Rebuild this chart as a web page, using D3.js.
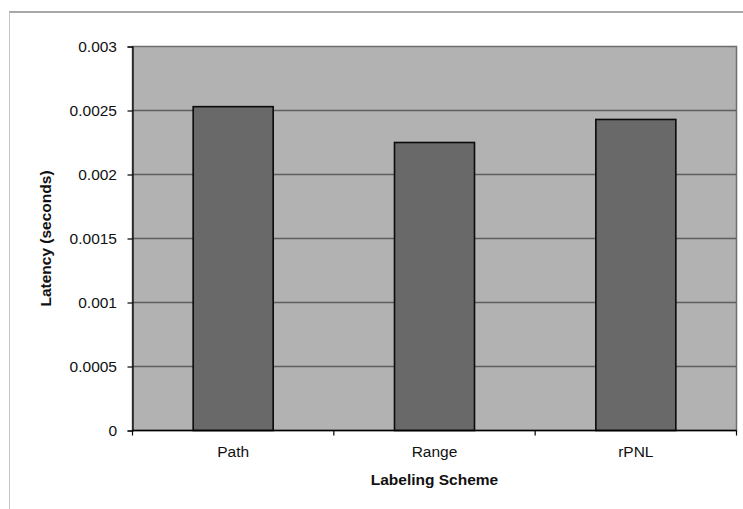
<!DOCTYPE html>
<html>
<head>
<meta charset="utf-8">
<script src="https://cdn.jsdelivr.net/npm/d3@7"></script>
<style>
  html, body { margin: 0; padding: 0; background: #fff; }
  svg { display: block; font-family: "Liberation Sans", Arial, sans-serif; }
</style>
</head>
<body>
<svg id="chart" width="743" height="509"></svg>
<script>
// Mean latency per labeling scheme
const categories = ["Path", "Range", "rPNL"];
const latency = [0.00253, 0.00225, 0.00243];
const yTicks = [0, 0.0005, 0.001, 0.0015, 0.002, 0.0025, 0.003];
const yTickLabels = ["0", "0.0005", "0.001", "0.0015", "0.002", "0.0025", "0.003"];

const svg = d3.select("#chart");
const W = 743, H = 509;
const plot = { left: 132.5, right: 736.5, top: 46.5, bottom: 430.5 };
const FS = 15.5;

// Frame lines around the chart object
svg.append("line").attr("x1", 9).attr("x2", W).attr("y1", 12).attr("y2", 12)
  .attr("stroke", "#8a8a8a").attr("stroke-width", 1.5);
svg.append("line").attr("x1", 9.5).attr("x2", 9.5).attr("y1", 12).attr("y2", H)
  .attr("stroke", "#c4c4c4").attr("stroke-width", 1);

const x = d3.scaleBand().domain(categories).range([plot.left, plot.right]).paddingInner(0).paddingOuter(0);
const y = d3.scaleLinear().domain([0, 0.003]).range([plot.bottom, plot.top]);

// Plot background
svg.append("rect")
  .attr("x", plot.left).attr("y", plot.top)
  .attr("width", plot.right - plot.left).attr("height", plot.bottom - plot.top)
  .attr("fill", "#b2b2b2").attr("stroke", "#6e6e6e").attr("stroke-width", 1.5);

// Horizontal gridlines
svg.append("g").selectAll("line").data(yTicks.filter(d => d > 0 && d < 0.003)).join("line")
  .attr("x1", plot.left).attr("x2", plot.right)
  .attr("y1", d => y(d)).attr("y2", d => y(d))
  .attr("stroke", "#5e5e5e").attr("stroke-width", 1.3);

// Bars
const barW = 80;
svg.append("g").selectAll("rect").data(categories).join("rect")
  .attr("x", d => x(d) + (x.bandwidth() - barW) / 2)
  .attr("y", (d, i) => y(latency[i]))
  .attr("width", barW)
  .attr("height", (d, i) => y(0) - y(latency[i]))
  .attr("fill", "#696969").attr("stroke", "#0a0a0a").attr("stroke-width", 1.6);

// Y axis
const yAxis = d3.axisLeft(y).tickValues(yTicks)
  .tickFormat((d, i) => yTickLabels[i]).tickSize(5).tickPadding(10.5);
const gy = svg.append("g").attr("transform", `translate(${plot.left},0)`).call(yAxis)
  .attr("font-size", FS).attr("font-family", "'Liberation Sans', Arial, sans-serif");
gy.select(".domain").attr("stroke", "#000").attr("stroke-width", 1.2);
gy.selectAll(".tick line").attr("stroke", "#000").attr("stroke-width", 1.2);
gy.selectAll(".tick text").attr("fill", "#111");

// X axis: ticks sit on the category boundaries
const gx = svg.append("g").attr("transform", `translate(0,${plot.bottom})`);
gx.append("line").attr("x1", plot.left).attr("x2", plot.right).attr("y1", 0).attr("y2", 0)
  .attr("stroke", "#000").attr("stroke-width", 1.3);
const bounds = categories.map(c => x(c)).concat([x(categories[categories.length - 1]) + x.bandwidth()]);
gx.selectAll("line.b").data(bounds).join("line").attr("class", "b")
  .attr("x1", d => d).attr("x2", d => d).attr("y1", 0).attr("y2", 5)
  .attr("stroke", "#000").attr("stroke-width", 1.2);
gx.selectAll("text").data(categories).join("text")
  .attr("x", d => x(d) + x.bandwidth() / 2).attr("y", 26)
  .attr("text-anchor", "middle").attr("font-size", FS).attr("fill", "#111")
  .text(d => d);

// Axis titles
svg.append("text")
  .attr("x", (plot.left + plot.right) / 2).attr("y", 485)
  .attr("text-anchor", "middle").attr("font-size", FS).attr("font-weight", "bold").attr("fill", "#111")
  .text("Labeling Scheme");
svg.append("text")
  .attr("transform", `translate(51,${(plot.top + plot.bottom) / 2}) rotate(-90)`)
  .attr("text-anchor", "middle").attr("font-size", FS).attr("font-weight", "bold").attr("fill", "#111")
  .text("Latency (seconds)");
</script>
</body>
</html>
